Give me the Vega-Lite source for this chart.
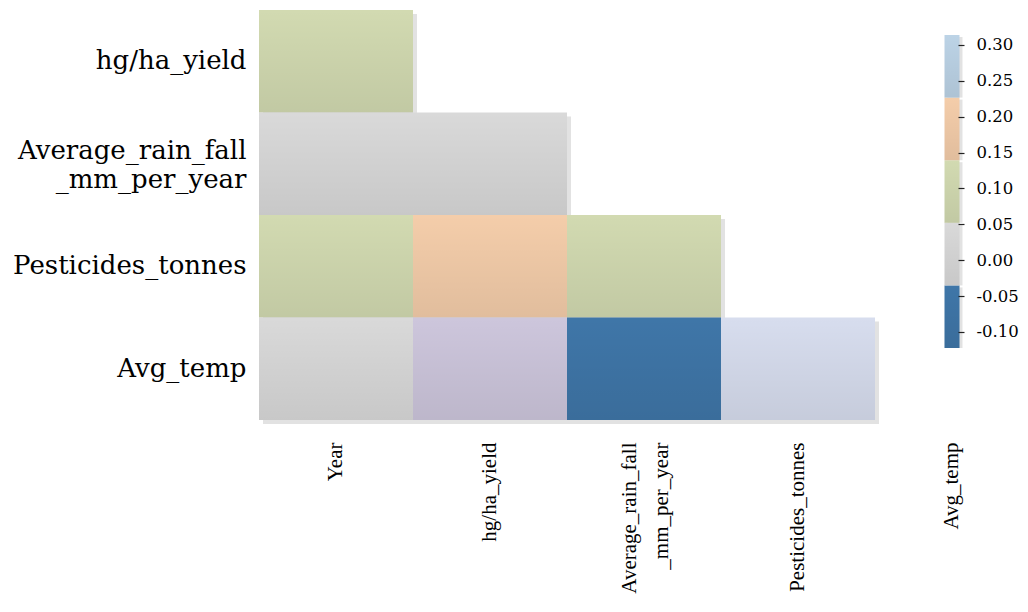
{
  "$schema": "https://vega.github.io/schema/vega-lite/v6.json",
  "autosize": {"type": "none"},
  "width": 770,
  "height": 410,
  "padding": {"left": 259, "top": 10, "right": 0, "bottom": 192},
  "background": "white",
  "config": {"view": {"stroke": null}, "axis": {"grid": false}},
  "datasets": {
    "cells": [
      {"row": "hg/ha_yield", "col": "Year", "value": 0.09},
      {"row": "Average_rain_fall_mm_per_year", "col": "Year", "value": -0.004},
      {"row": "Average_rain_fall_mm_per_year", "col": "hg/ha_yield", "value": 0.001},
      {"row": "Pesticides_tonnes", "col": "Year", "value": 0.1},
      {"row": "Pesticides_tonnes", "col": "hg/ha_yield", "value": 0.18},
      {"row": "Pesticides_tonnes", "col": "Average_rain_fall_mm_per_year", "value": 0.09},
      {"row": "Avg_temp", "col": "Year", "value": 0.014},
      {"row": "Avg_temp", "col": "hg/ha_yield", "value": -0.115},
      {"row": "Avg_temp", "col": "Average_rain_fall_mm_per_year", "value": -0.09},
      {"row": "Avg_temp", "col": "Pesticides_tonnes", "value": 0.31}
    ],
    "bands": [
      {"lo": -0.1223, "hi": -0.0351, "v": -0.08},
      {"lo": -0.0351, "hi": 0.0522, "v": 0.0},
      {"lo": 0.0522, "hi": 0.1394, "v": 0.1},
      {"lo": 0.1394, "hi": 0.2267, "v": 0.18},
      {"lo": 0.2267, "hi": 0.3139, "v": 0.27}
    ]
  },
  "layer": [
    {
      "data": {"name": "cells"},
      "encoding": {
        "x": {
          "field": "col", "type": "nominal",
          "scale": {"domain": ["Year", "hg/ha_yield", "Average_rain_fall_mm_per_year", "Pesticides_tonnes", "Avg_temp"], "paddingInner": 0, "paddingOuter": 0},
          "axis": {
            "title": null, "orient": "bottom", "labelAngle": 270, "labelAlign": "right", "labelBaseline": "middle",
            "labelPadding": 22, "labelFont": "Liberation Serif", "labelFontSize": 21, "labelColor": "black",
            "ticks": false, "domain": false, "labelLimit": 0, "labelLineHeight": 32,
            "labelOffset": {"condition": {"test": "datum.value == 'Average_rain_fall_mm_per_year'", "value": -14}, "value": 0},
            "labelExpr": "datum.value == 'Average_rain_fall_mm_per_year' ? ['Average_rain_fall', '_mm_per_year'] : datum.value"
          }
        },
        "y": {
          "field": "row", "type": "nominal",
          "scale": {"domain": ["hg/ha_yield", "Average_rain_fall_mm_per_year", "Pesticides_tonnes", "Avg_temp"], "paddingInner": 0, "paddingOuter": 0},
          "axis": {
            "title": null, "labelFont": "DejaVu Serif", "labelFontSize": 26, "labelColor": "black", "labelPadding": 13,
            "ticks": false, "domain": false, "labelLimit": 0, "labelLineHeight": 29,
            "labelOffset": {"condition": {"test": "datum.value == 'Average_rain_fall_mm_per_year'", "value": -13}, "value": 0},
            "labelExpr": "datum.value == 'Average_rain_fall_mm_per_year' ? ['Average_rain_fall', '_mm_per_year'] : datum.value"
          }
        }
      },
      "layer": [
        {"mark": {"type": "rect", "fill": "#e2e2e2", "xOffset": 4, "yOffset": 4}},
        {
          "mark": {"type": "rect"},
          "encoding": {
            "color": {
              "field": "value", "type": "quantitative", "legend": null,
              "scale": {"type": "threshold", "domain": [-0.105, -0.035, 0.052, 0.139, 0.227, 0.3],
                "range": ["#cdc6dc", "#3f76a8", "#d9d9d9", "#d2dab1", "#f4cdaa", "#bcd3e6", "#d7ddee"]}
            }
          }
        },
        {"mark": {"type": "rect", "fill": {"gradient": "linear", "x1": 0, "y1": 0, "x2": 0, "y2": 1,
          "stops": [{"offset": 0, "color": "rgba(0,0,0,0)"}, {"offset": 1, "color": "rgba(0,0,0,0.08)"}]}}}
      ]
    },
    {
      "data": {"name": "bands"},
      "encoding": {
        "x": {"datum": "Avg_temp", "type": "nominal", "title": null,
          "scale": {"domain": ["Year", "hg/ha_yield", "Average_rain_fall_mm_per_year", "Pesticides_tonnes", "Avg_temp"], "paddingInner": 0, "paddingOuter": 0}},
        "y": {
          "field": "hi", "type": "quantitative",
          "scale": {"domain": [-0.22265, 0.34878], "nice": false, "zero": false},
          "axis": {
            "title": null, "orient": "right", "offset": -71, "zindex": 2, "values": [-0.1, -0.05, 0, 0.05, 0.1, 0.15, 0.2, 0.25, 0.3],
            "labelExpr": "replace(format(datum.value, '.2f'), '\u2212', '-')",
            "domain": false, "ticks": true, "tickSize": 6, "tickWidth": 1.2, "tickColor": "#222", "grid": false,
            "labelFont": "DejaVu Serif", "labelFontSize": 16.5, "labelColor": "black", "labelPadding": 12
          }
        },
        "y2": {"field": "lo"}
      },
      "layer": [
        {"mark": {"type": "rect", "width": 15, "fill": "#e2e2e2", "xOffset": 3, "yOffset": 2}},
        {
          "mark": {"type": "rect", "width": 15},
          "encoding": {
            "color": {
              "field": "v", "type": "quantitative", "legend": null,
              "scale": {"type": "threshold", "domain": [-0.105, -0.035, 0.052, 0.139, 0.227, 0.3],
                "range": ["#cdc6dc", "#3f76a8", "#d9d9d9", "#d2dab1", "#f4cdaa", "#bcd3e6", "#d7ddee"]}
            }
          }
        },
        {"mark": {"type": "rect", "width": 15, "fill": {"gradient": "linear", "x1": 0, "y1": 0, "x2": 0, "y2": 1,
          "stops": [{"offset": 0, "color": "rgba(0,0,0,0)"}, {"offset": 1, "color": "rgba(0,0,0,0.08)"}]}}}
      ]
    }
  ],
  "resolve": {"scale": {"y": "independent"}}
}
